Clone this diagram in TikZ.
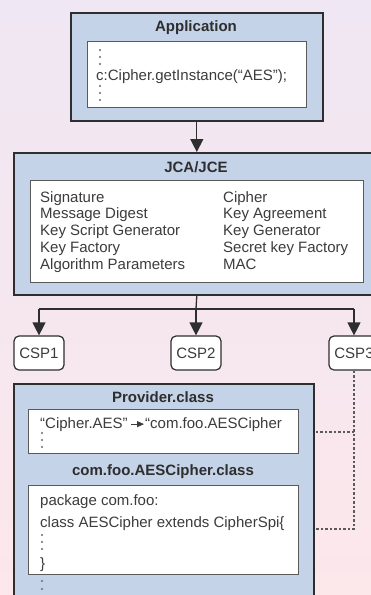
\documentclass[tikz,border=0pt]{standalone}
\usepackage{fontspec}
\setmainfont{Liberation Sans}
\usetikzlibrary{arrows.meta}
\definecolor{bgtop}{HTML}{EFE7F3}
\definecolor{bgbot}{HTML}{FCE7EB}
\definecolor{boxblue}{HTML}{C5D3E8}
\definecolor{edge}{HTML}{2E2E2E}
\definecolor{inedge}{HTML}{5A5A5A}
\definecolor{txt}{HTML}{3C3C3C}
\definecolor{dotc}{HTML}{6A6A6A}
\begin{document}
\begin{tikzpicture}[x=1pt,y=-1pt,
 outerbox/.style={draw=edge, line width=1.6pt, fill=boxblue, anchor=north west, inner sep=0pt},
 innerbox/.style={draw=inedge, line width=1.3pt, fill=white, anchor=north west, inner sep=0pt},
 title/.style={font=\bfseries\fontsize{15}{17}\selectfont, text=edge, inner sep=0pt},
 body/.style={font=\fontsize{15}{16.7}\selectfont, text=txt, inner sep=0pt, align=left, anchor=base west},
 cspbox/.style={draw=edge, line width=1.2pt, fill=white, rounded corners=5pt, minimum width=50pt, minimum height=34pt, font=\fontsize{15}{17}\selectfont, text=txt, inner sep=0pt},
 wire/.style={draw=edge, line width=1.3pt},
 flow/.style={wire, -{Triangle[width=13pt,length=13pt]}},
 link/.style={draw=inedge, line width=1.2pt, dash pattern=on 2.5pt off 2pt},
 dotmark/.style={fill=dotc}
]
\useasboundingbox (0,0) rectangle (371,595);
\clip (0,0) rectangle (371,595);
\shade[top color=bgtop, bottom color=bgbot] (0,0) rectangle (371,595);

% Application
\node[outerbox, minimum width=252pt, minimum height=108pt] (app) at (70,12) {};
\node[title] (apptitle) at (196,28) {Application};
\node[innerbox, minimum width=219pt, minimum height=66pt] (appcode) at (87,41) {};
\node[body] (call) at (96,80) {c:Cipher.getInstance(“AES”);};
\foreach \y in {50,57,64,86,93,100} \fill[dotmark] (100,\y) circle (1.1pt);

% JCA/JCE
\node[outerbox, minimum width=380pt, minimum height=142pt] (jca) at (13,152) {};
\node[title] (jcatitle) at (196,167) {JCA/JCE};
\node[innerbox, minimum width=333pt, minimum height=102pt] (jcalist) at (30,180) {};
\node[body] (colA) at (40,269) {Signature\\Message Digest\\Key Script Generator\\Key Factory\\Algorithm Parameters};
\node[body] (colB) at (223,269) {Cipher\\Key Agreement\\Key Generator\\Secret key Factory\\MAC};

\draw[flow] (app.south) -- (app.south |- jca.north);

% CSPs
\node[cspbox] (csp1) at (39,353) {CSP1};
\node[cspbox] (csp2) at (196,353) {CSP2};
\node[cspbox] (csp3) at (354,353) {CSP3};
\coordinate (split) at (196,309);
\draw[wire] (app.south |- jca.south) -- (split);
\draw[wire] (csp1.north |- split) -- (csp3.north |- split);
\draw[flow] (csp1.north |- split) -- (csp1.north);
\draw[flow] (split) -- (csp2.north);
\draw[flow] (csp3.north |- split) -- (csp3.north);

% Provider
\node[outerbox, minimum width=300pt, minimum height=240pt] (prov) at (13,383) {};
\node[title] (provtitle) at (163,397) {Provider.class};
\node[innerbox, minimum width=270pt, minimum height=44pt] (provmap) at (28,409) {};
\node[body] (alg) at (40,428) {“Cipher.AES”};
\node[body] (impl) at (145,428) {“com.foo.AESCipher};
\draw[draw=txt, line width=0.9pt, -{Triangle[width=6pt,length=7pt]}] ([xshift=3pt]alg.east) -- ([xshift=-1pt]impl.west);
\foreach \y in {433,440,447} \fill[dotmark] (42,\y) circle (1.1pt);

\node[title] (clstitle) at (163,472) {com.foo.AESCipher.class};
\node[innerbox, minimum width=270pt, minimum height=89pt] (clscode) at (28,485) {};
\node[body] (pkg) at (40,505) {package com.foo:};
\node[body] (decl) at (40,527) {class AESCipher extends CipherSpi\{};
\foreach \y in {535,542,549} \fill[dotmark] (42,\y) circle (1.1pt);
\node[body] (close) at (40,568) {\}};
\foreach \y in {581,589} \fill[dotmark] (42,\y) circle (1.1pt);

% dotted links
\coordinate (mapy) at (0,432);
\coordinate (clsy) at (0,529);
\draw[link] (csp3.south) |- (prov.east |- clsy);
\draw[link] (csp3.south |- mapy) -- (prov.east |- mapy);
\end{tikzpicture}
\end{document}
